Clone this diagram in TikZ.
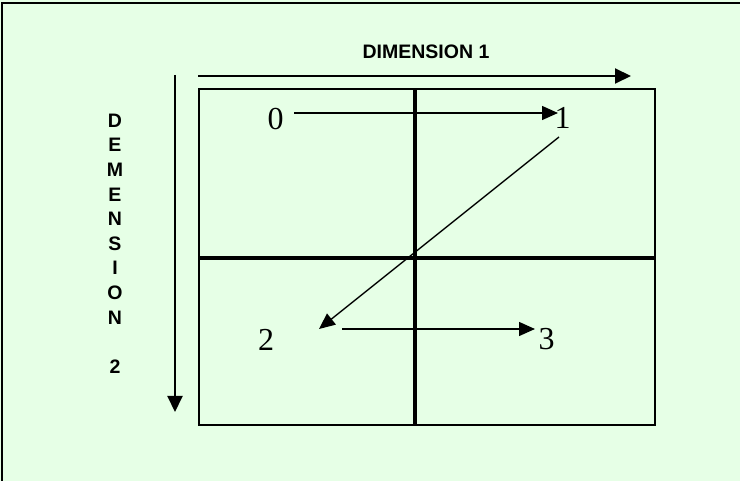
\documentclass[tikz,border=0pt]{standalone}
\usepackage{fontspec}
\setmainfont{Liberation Serif}
\newfontfamily\axisfont{Liberation Sans}
\usepackage{xcolor}
\definecolor{cBack}{HTML}{E6FFE6}
\definecolor{cLine}{HTML}{000000}
\usepackage{tikz}
\usetikzlibrary{arrows.meta,calc}
\tikzset{
  grid-box/.style={draw=cLine,line width=1.6pt},
  grid-split/.style={draw=cLine,line width=4.5pt},
  frame-line/.style={draw=cLine,line width=2.5pt},
  axis-arrow/.style={-{Triangle[length=16pt,width=15pt]},line width=2pt,draw=cLine},
  step-arrow/.style={-{Triangle[length=16pt,width=14pt]},line width=1.4pt,draw=cLine},
  node-digit/.style={inner sep=0pt,font=\fontsize{32}{36}\selectfont},
  node-axis/.style={inner sep=0pt,font=\axisfont\bfseries\fontsize{19.5}{22}\selectfont},
}

\begin{document}
\begin{tikzpicture}[x=1pt,y=-1pt]
  \useasboundingbox (0,0) rectangle (740,481);
  \fill[cBack] (0,0) rectangle (740,481);
  \draw[frame-line] (2,481) |- (740,3);

  % quadrant box
  \draw[grid-box] (199,89) rectangle (655,425);
  \draw[grid-split] (415,89) -- (415,425);
  \draw[grid-split] (199,258) -- (655,258);

  % axes
  \coordinate (d1-from) at (198,76);
  \coordinate (d1-to) at (631,76);
  \coordinate (d2-from) at (175,75);
  \coordinate (d2-to) at (175,412);
  \draw[axis-arrow] (d1-from) -- (d1-to);
  \draw[axis-arrow] (d2-from) -- (d2-to);
  \node[node-axis] (dim1) at (426,51.5) {DIMENSION 1};
  \foreach \ch [count=\i] in {D,E,M,E,N,S,I,O,N}
    \node[node-axis] (dim2-\i) at (115,96+24.6*\i) {\ch};
  \node[node-axis] (dim2-num) at (115,367) {2};

  % visiting order
  \node[node-digit] (n0) at (275.5,119) {0};
  \node[node-digit] (n1) at (562.5,118) {1};
  \node[node-digit] (n2) at (266,339.5) {2};
  \node[node-digit] (n3) at (546.5,339.5) {3};
  \draw[step-arrow] ($(n0)+(18.5,-6)$) -- ($(n1)+(-4.5,-5)$);
  \draw[step-arrow] ($(n1)+(-3.5,19)$) -- ($(n2)+(53,-10.5)$);
  \draw[step-arrow] ($(n2)+(76,-10.5)$) -- ($(n3)+(-11.5,-10.5)$);
\end{tikzpicture}
\end{document}
